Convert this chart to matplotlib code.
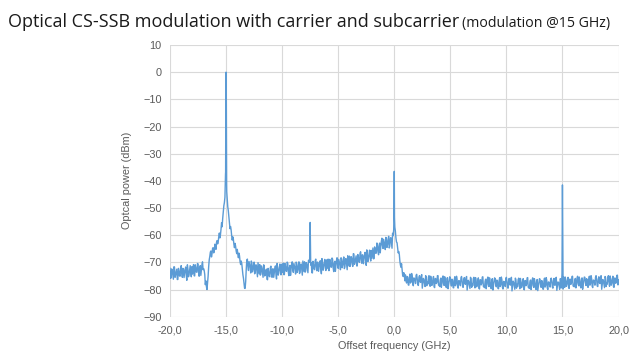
import numpy as np
import matplotlib
matplotlib.use("Agg")
import matplotlib.pyplot as plt
from matplotlib.ticker import FuncFormatter

# spectrum samples on a 0.1 GHz grid, -20.0 ... 20.0 GHz (one row = 1 GHz)
freq = np.round(np.arange(-200, 201) * 0.1, 1)
power = [
    -72.2, -75.6, -73.0, -76.2, -71.7, -74.6, -72.5, -76.3, -73.2, -75.1,  # -20
    -71.2, -75.5, -72.5, -74.1, -71.7, -76.6, -72.5, -74.5, -71.2, -75.3,  # -19
    -74.3, -70.8, -75.0, -72.0, -73.6, -70.6, -75.1, -71.2, -72.6, -69.8,  # -18
    -72.3, -74.5, -76.8, -80.0, -75.0, -69.0, -66.2, -68.0, -64.8, -66.5,  # -17
    -63.3, -65.2, -62.0, -62.4, -59.2, -59.8, -55.4, -53.8, -49.2, -46.0,  # -16
    0.0, -46.5, -51.0, -55.5, -56.8, -60.2, -60.6, -63.4, -63.0, -65.8,    # -15
    -65.2, -68.3, -67.6, -70.8, -70.4, -74.5, -77.8, -79.6, -72.5, -68.8,  # -14
    -73.0, -70.8, -73.9, -70.1, -72.7, -69.9, -73.8, -71.0, -75.3, -72.2,  # -13
    -70.8, -74.4, -72.1, -75.5, -71.2, -74.4, -72.5, -76.4, -73.5, -75.3,  # -12
    -71.4, -75.5, -72.4, -73.8, -71.3, -76.1, -72.0, -73.9, -70.6, -74.6,  # -11
    -73.7, -70.3, -74.5, -71.6, -73.3, -70.3, -74.9, -71.1, -72.5, -69.8,  # -10
    -73.7, -71.4, -74.3, -70.4, -72.8, -69.8, -73.6, -70.6, -74.7, -71.4,  # -9
    -69.8, -73.2, -70.6, -73.8, -69.3, -55.3, -70.1, -73.9, -70.8, -72.7,  # -8
    -68.8, -73.1, -70.1, -71.7, -69.4, -74.2, -70.2, -72.2, -68.9, -73.0,  # -7
    -72.2, -68.8, -73.0, -70.1, -71.8, -68.8, -73.4, -69.6, -71.0, -68.3,  # -6
    -72.2, -69.8, -72.7, -68.7, -71.0, -68.0, -71.7, -68.6, -72.7, -69.3,  # -5
    -67.7, -71.0, -68.4, -71.5, -66.9, -69.8, -67.6, -71.3, -68.2, -70.0,  # -4
    -66.1, -70.3, -67.3, -68.7, -66.3, -71.1, -67.0, -68.8, -65.5, -69.5,  # -3
    -68.5, -64.7, -68.6, -65.3, -66.5, -63.1, -67.2, -62.9, -64.1, -61.1,  # -2
    -64.9, -62.4, -65.3, -61.2, -63.5, -60.4, -64.1, -60.9, -64.8, -60.2,  # -1
    -36.5, -58.5, -62.5, -64.8, -66.0, -69.5, -71.8, -72.6, -75.2, -74.8,  # 0
    -74.6, -77.6, -75.5, -78.4, -74.3, -77.1, -75.2, -78.6, -76.0, -77.8,  # 1
    -74.4, -78.2, -75.6, -77.1, -75.1, -79.5, -75.9, -77.8, -74.9, -78.6,  # 2
    -78.0, -74.9, -78.8, -76.3, -77.8, -75.2, -79.3, -76.0, -77.4, -74.9,  # 3
    -78.5, -76.5, -79.2, -75.6, -77.9, -75.3, -78.7, -76.0, -79.7, -76.9,  # 4
    -75.7, -78.7, -76.5, -79.4, -75.3, -78.0, -76.1, -79.5, -76.8, -78.6,  # 5
    -75.2, -79.0, -76.4, -77.8, -75.8, -80.2, -76.6, -78.4, -75.5, -79.2,  # 6
    -78.6, -75.5, -79.4, -76.8, -78.3, -75.7, -79.8, -76.4, -77.8, -75.3,  # 7
    -79.0, -77.0, -79.7, -76.1, -78.3, -75.7, -79.1, -76.4, -80.2, -77.2,  # 8
    -76.0, -79.0, -76.8, -79.7, -75.6, -78.3, -76.4, -79.8, -77.1, -78.9,  # 9
    -75.5, -79.3, -76.7, -78.1, -76.1, -80.5, -76.9, -78.7, -75.8, -79.5,  # 10
    -78.9, -75.8, -79.7, -77.1, -78.6, -76.0, -80.1, -76.7, -78.1, -75.6,  # 11
    -79.3, -77.3, -80.0, -76.4, -78.6, -76.0, -79.4, -76.7, -80.4, -77.5,  # 12
    -76.2, -79.2, -77.0, -79.9, -75.8, -78.5, -76.6, -80.0, -77.3, -79.1,  # 13
    -75.8, -79.1, -76.5, -78.4, -75.9, -80.3, -77.2, -78.5, -76.0, -79.4,  # 14
    -41.5, -75.3, -79.2, -76.6, -78.1, -75.5, -79.6, -76.2, -77.6, -75.1,  # 15
    -78.7, -76.7, -79.4, -75.8, -78.0, -75.4, -78.8, -76.1, -79.9, -76.9,  # 16
    -75.5, -78.5, -76.3, -79.2, -75.1, -77.8, -75.9, -79.3, -76.6, -78.4,  # 17
    -74.9, -78.7, -76.1, -77.5, -75.5, -79.9, -76.3, -78.1, -75.2, -78.9,  # 18
    -78.0, -74.9, -78.8, -76.2, -77.7, -75.1, -79.2, -75.8, -77.2, -74.7,  # 19
    -76.5,                                                                 # 20
]

# samples in between, at -19.95 ... 19.95 GHz
freq_mid = np.round(np.arange(-200, 200) * 0.1 + 0.05, 2)
power_mid = [
    -75.9, -72.4, -74.7, -71.6, -75.5, -73.5, -76.3, -72.2, -75.0, -71.9,  # -20
    -73.9, -72.2, -75.6, -72.5, -74.8, -70.9, -75.3, -72.7, -73.7, -71.6,  # -19
    -72.3, -74.9, -70.9, -73.6, -70.4, -73.8, -72.3, -74.8, -70.8, -72.7,  # -18
    -73.0, -78.2, -79.0, -77.5, -71.5, -67.8, -65.8, -66.8, -64.6, -65.8,  # -17
    -64.0, -62.6, -63.2, -60.5, -61.0, -57.8, -56.9, -51.5, -48.0, -37.5,  # -16
    -41.0, -49.5, -53.2, -57.6, -58.0, -61.8, -61.5, -64.6, -64.0, -66.8,  # -15
    -67.0, -66.6, -69.8, -69.5, -72.6, -75.8, -79.5, -77.0, -69.2, -71.6,  # -14
    -69.7, -71.8, -69.5, -73.5, -71.0, -74.2, -70.9, -73.2, -70.1, -74.2,  # -13
    -74.7, -71.3, -73.8, -70.9, -75.0, -73.2, -76.2, -72.2, -75.1, -71.9,  # -12
    -74.2, -72.4, -75.5, -72.3, -74.4, -70.4, -74.7, -72.0, -72.9, -70.7,  # -11
    -71.8, -74.5, -70.4, -73.2, -69.9, -73.5, -72.0, -74.8, -70.7, -72.7,  # -10
    -70.4, -72.4, -69.9, -73.7, -71.1, -74.1, -70.7, -72.8, -69.5, -73.4,  # -9
    -73.6, -70.1, -72.3, -69.2, -70.0, -71.0, -73.8, -69.6, -72.4, -69.3,  # -8
    -71.6, -69.9, -73.3, -70.2, -72.5, -68.6, -72.9, -70.3, -71.2, -69.1,  # -7
    -70.3, -73.0, -68.9, -71.7, -68.4, -72.0, -70.5, -73.3, -69.2, -71.2,  # -6
    -68.9, -70.8, -68.3, -72.0, -69.3, -72.3, -68.8, -70.8, -67.5, -71.3,  # -5
    -71.5, -67.9, -70.2, -66.8, -70.7, -68.6, -71.3, -67.1, -69.7, -66.6,  # -4
    -68.9, -67.2, -70.5, -67.3, -69.4, -65.4, -69.7, -66.9, -67.8, -65.6,  # -3
    -66.4, -68.7, -64.3, -66.7, -62.9, -66.1, -64.1, -66.5, -62.2, -63.9,  # -2
    -61.5, -63.4, -60.8, -64.5, -61.7, -64.7, -61.1, -63.0, -59.3, -58.0,  # -1
    -57.0, -61.0, -62.8, -66.5, -67.0, -71.0, -70.5, -74.8, -73.8, -76.8,  # 0
    -76.8, -75.2, -78.3, -75.5, -77.6, -74.1, -78.0, -75.7, -76.6, -74.7,  # 1
    -76.1, -78.5, -74.9, -77.4, -74.5, -77.8, -76.4, -78.9, -75.3, -77.1,  # 2
    -75.5, -77.3, -75.1, -78.5, -76.2, -79.0, -75.9, -77.8, -74.9, -78.4,  # 3
    -78.9, -75.8, -77.8, -75.0, -78.5, -76.7, -79.3, -75.6, -78.1, -75.3,  # 4
    -77.8, -76.2, -79.3, -76.5, -78.6, -75.1, -79.0, -76.7, -77.6, -75.7,  # 5
    -76.8, -79.2, -75.6, -78.1, -75.2, -78.5, -77.1, -79.6, -76.0, -77.8,  # 6
    -76.0, -77.8, -75.6, -79.0, -76.7, -79.5, -76.4, -78.3, -75.4, -78.9,  # 7
    -79.3, -76.2, -78.2, -75.4, -78.9, -77.1, -79.7, -76.0, -78.5, -75.7,  # 8
    -78.1, -76.5, -79.6, -76.8, -78.9, -75.4, -79.3, -77.0, -77.9, -76.0,  # 9
    -77.1, -79.5, -75.9, -78.4, -75.5, -78.8, -77.4, -79.9, -76.3, -78.1,  # 10
    -76.3, -78.1, -75.9, -79.3, -77.0, -79.8, -76.7, -78.6, -75.7, -79.2,  # 11
    -79.6, -76.5, -78.5, -75.7, -79.2, -77.4, -80.0, -76.3, -78.8, -76.0,  # 12
    -78.3, -76.7, -79.8, -77.0, -79.1, -75.6, -79.5, -77.2, -78.1, -76.2,  # 13
    -77.1, -79.5, -75.9, -78.4, -75.5, -78.8, -77.4, -79.9, -76.3, -75.0,  # 14
    -74.5, -77.6, -75.4, -78.8, -76.5, -79.3, -76.2, -78.1, -75.2, -78.7,  # 15
    -79.0, -75.9, -77.9, -75.1, -78.6, -76.8, -79.4, -75.7, -78.2, -75.4,  # 16
    -77.6, -76.0, -79.1, -76.3, -78.4, -74.9, -78.8, -76.5, -77.4, -75.5,  # 17
    -76.5, -78.9, -75.3, -77.8, -74.9, -78.2, -76.8, -79.3, -75.7, -77.5,  # 18
    -75.4, -77.2, -75.0, -78.4, -76.1, -78.9, -75.8, -77.7, -74.8, -78.3,  # 19
]

# extra samples right at the tones
peak_freq = [-15.06, -15.04, -15.02, -14.98, -14.96, -14.94,
             -0.03, 0.02, 14.96, 15.04, 15.07]
peak_power = [-38.5, -36.8, -8.0, -7.5, -38.0, -44.0,
              -53.0, -53.5, -74.2, -73.8, -79.8]

f_all = np.concatenate([freq, freq_mid, peak_freq])
p_all = np.concatenate([power, power_mid, peak_power])
order = np.argsort(f_all, kind="stable")

fig = plt.figure(figsize=(6.36, 3.62), dpi=100)
ax = fig.add_axes([0.2673, 0.1251, 0.7052, 0.7506])

ax.plot(f_all[order], p_all[order], color="#5b9bd5", linewidth=1.0)

ax.set_xlim(-20, 20)
ax.set_ylim(-90, 10)
ax.set_xticks(np.arange(-20, 21, 5))
ax.set_yticks(np.arange(-90, 11, 10))
ax.xaxis.set_major_formatter(FuncFormatter(lambda v, p: f"{v:.1f}".replace(".", ",")))
ax.grid(True, color="#d9d9d9", linewidth=0.8)
ax.set_axisbelow(True)
for s in ax.spines.values():
    s.set_visible(False)
ax.tick_params(length=0, colors="#595959", labelsize=7.8, pad=6)
for lab in ax.get_xticklabels() + ax.get_yticklabels():
    lab.set_family("Liberation Sans")

ax.set_xlabel("Offset frequency (GHz)", color="#595959", fontsize=7.8,
              family="Liberation Sans", labelpad=4)
ax.set_ylabel("Optcal power (dBm)", color="#595959", fontsize=7.8,
              family="Liberation Sans", labelpad=8)

fig.text(0.013, 0.925, "Optical CS-SSB modulation with carrier and subcarrier",
         fontsize=13, family="Open Sans", color="#1a1a1a")
fig.text(0.726, 0.925, "(modulation @15 GHz)",
         fontsize=10.2, family="Open Sans", color="#1a1a1a")

fig.savefig("out.png", dpi=100)
